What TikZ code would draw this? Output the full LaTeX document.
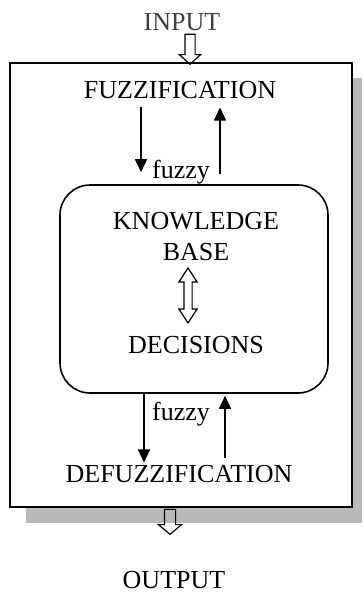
\documentclass[tikz,border=0pt]{standalone}
\usepackage{fontspec}
\setmainfont{Liberation Serif}
\usetikzlibrary{arrows.meta,shapes.arrows}

\begin{document}
\begin{tikzpicture}[x=1pt, y=-1pt, line width=1.6pt, >={Triangle[length=13pt,width=12pt]},
    lbl/.style={inner sep=0pt, font=\fontsize{26}{31}\selectfont},
    openarrow/.style={single arrow, draw, rotate=-90, inner sep=4.5pt, line width=1.2pt,
        single arrow tip angle=95, single arrow head indent=0pt}]
    \useasboundingbox (0,0) rectangle (362,594);
    % Frame with shadow
    \fill[black!27] (26,78) rectangle (362,523);
    \node (frame) [draw, fill=white, minimum width=342, minimum height=444] at (181,285) {};
    \node (box) [draw, rounded corners=30pt, minimum width=268, minimum height=208] at (194,289) {};

    % Nodes
    \node (in) [lbl, text=black!75] at (182,22) {INPUT};
    \node (fuzz) [lbl] at (180,90) {FUZZIFICATION};
    \node (fz1) [lbl] at (181,172) {fuzzy};
    \node (kb) [lbl, align=center] at (196,237) {KNOWLEDGE\\BASE};
    \node (dec) [lbl] at (196,345) {DECISIONS};
    \node (fz2) [lbl] at (181,414) {fuzzy};
    \node (defuzz) [lbl] at (179,474) {DEFUZZIFICATION};
    \node (out) [lbl] at (174,580) {OUTPUT};

    % Open arrows
    \node (inarr) [openarrow, minimum height=30, single arrow head extend=5.5pt] at (190,47) {};
    \node (outarr) [openarrow, minimum height=25, inner sep=5pt, single arrow head extend=6pt,
        single arrow tip angle=100] at (170,519.5) {};
    \node (kbarr) [double arrow, draw, rotate=90, inner sep=3.5pt, line width=1.2pt, minimum height=55,
        double arrow head extend=5pt, double arrow tip angle=66, double arrow head indent=0pt] at (188,295.5) {};

    % Edges
    \draw[->] ([xshift=-39pt,yshift=-7pt]fuzz.south) -- ([xshift=-53pt,yshift=12pt]box.north);
    \draw[->] ([xshift=26pt,yshift=10pt]box.north) -- ([xshift=40pt,yshift=-8pt]fuzz.south);
    \draw[->] ([xshift=-50pt]box.south) -- ([xshift=-35pt,yshift=2pt]defuzz.north);
    \draw[->] ([xshift=46pt,yshift=6pt]defuzz.north) -- ([xshift=31pt,yshift=-2pt]box.south);
\end{tikzpicture}
\end{document}
